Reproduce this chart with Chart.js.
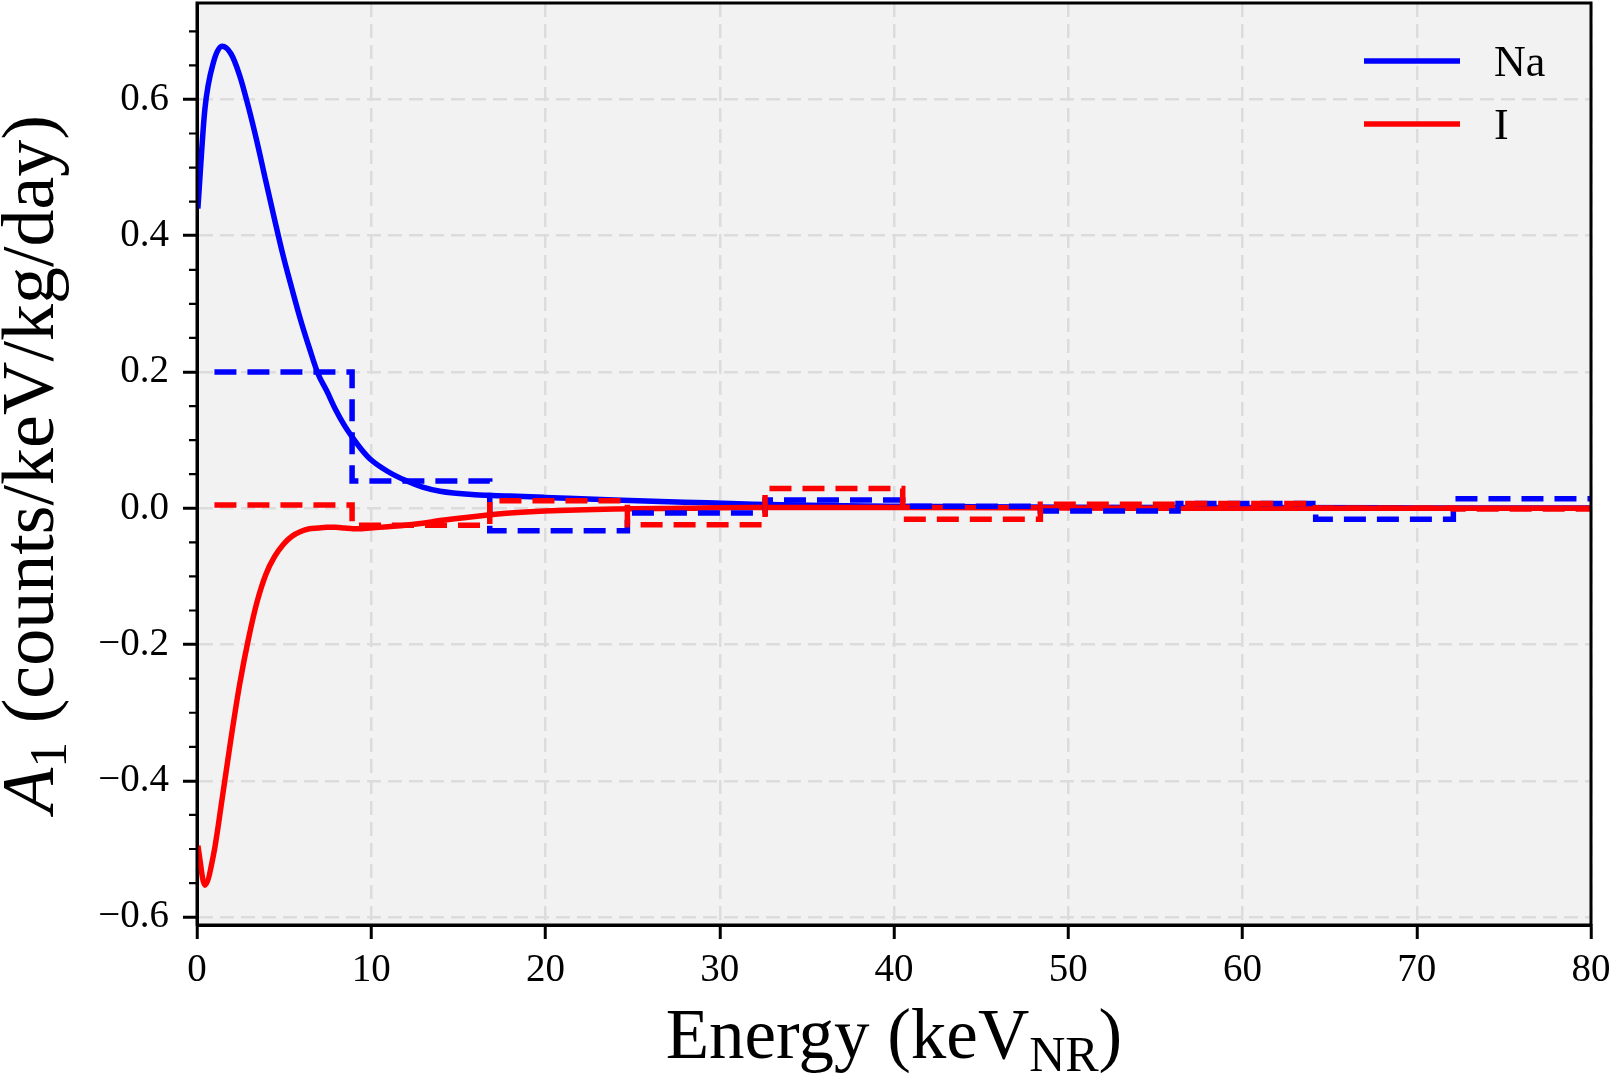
<!DOCTYPE html>
<html>
<head>
<meta charset="utf-8">
<script src="https://cdn.jsdelivr.net/npm/chart.js@4.4.1/dist/chart.umd.min.js"></script>
<style>
  body { margin: 0; background: #fff; overflow: hidden; }
  canvas { display: block; }
</style>
</head>
<body>
<canvas id="myChart" width="1612" height="1076"></canvas>
<script>
const energy = [0.05, 0.45, 0.95, 1.45, 1.95, 2.45, 2.95, 3.45, 3.95, 4.45, 4.95, 5.45, 5.95, 6.45, 6.95, 7.45, 7.95, 8.45, 8.95, 9.45, 9.95, 10.95, 11.95, 12.95, 13.95, 15.95, 17.95, 19.95, 23.95, 27.95, 31.95, 35.95, 39.95, 49.95, 59.95, 69.95, 80];

const naA1 = [0.44, 0.585, 0.655, 0.678, 0.667, 0.635, 0.589, 0.537, 0.48, 0.424, 0.37, 0.322, 0.276, 0.235, 0.197, 0.172, 0.145, 0.122, 0.103, 0.086, 0.072, 0.054, 0.041, 0.031, 0.025, 0.02, 0.018, 0.016, 0.012, 0.009, 0.006, 0.004, 0.003, 0.0015, 0.001, 0.0006, 0.0003];

const iA1 = [-0.495, -0.553, -0.508, -0.425, -0.338, -0.258, -0.192, -0.137, -0.097, -0.071, -0.053, -0.041, -0.034, -0.03, -0.029, -0.028, -0.028, -0.029, -0.03, -0.03, -0.029, -0.027, -0.025, -0.022, -0.018, -0.012, -0.007, -0.004, -0.001, 0.0, 0.001, 0.001, 0.001, 0.0005, 0.0, 0.0, 0.0];

// binned measurements (dashed steps)
const binEdges = [1.0, 8.9, 16.8, 24.7, 32.6, 40.5, 48.4, 56.3, 64.2, 72.1, 80.0];
const naBinned = [0.2, 0.04, -0.033, -0.007, 0.012, 0.003, -0.004, 0.007, -0.016, 0.014];
const iBinned = [0.005, -0.025, 0.011, -0.024, 0.029, -0.016, 0.006, 0.007, 0.0, -0.001];

const xTicks = [0, 10, 20, 30, 40, 50, 60, 70, 80];
const yTicks = [-0.6, -0.4, -0.2, 0.0, 0.2, 0.4, 0.6];
const yMin = -0.6115;
const yMax = 0.7415;
const yMinorStep = 0.05;
const legendLabels = ["Na", "I"];

Chart.defaults.font.family = "'Liberation Serif', 'Times New Roman', serif";
Chart.defaults.color = "#000";

function curve(xs, ys) {
  return xs.map((x, i) => ({ x: x, y: ys[i] }));
}
function steps(edges, vals) {
  const pts = vals.map((v, i) => ({ x: edges[i], y: v }));
  pts.push({ x: edges[edges.length - 1], y: vals[vals.length - 1] });
  return pts;
}

const BLUE = "#0000ff";
const RED = "#ff0000";

const plotBg = {
  id: "plotBg",
  beforeDraw(chart) {
    const { ctx, chartArea: a } = chart;
    ctx.save();
    ctx.fillStyle = "#f2f2f2";
    ctx.fillRect(a.left, a.top, a.width, a.height);
    ctx.restore();
  },
};

const frame = {
  id: "frame",
  afterDraw(chart) {
    const { ctx, chartArea: a, scales } = chart;
    ctx.save();
    // minor ticks on y
    ctx.strokeStyle = "#000";
    ctx.lineWidth = 2.2;
    ctx.beginPath();
    for (let k = Math.ceil(yMin / yMinorStep); k * yMinorStep <= yMax; k++) {
      const v = k * yMinorStep;
      if (Math.abs(v * 5 - Math.round(v * 5)) < 1e-6) continue;
      const py = scales.y.getPixelForValue(v);
      ctx.moveTo(a.left - 8, py);
      ctx.lineTo(a.left, py);
    }
    ctx.stroke();
    // spines
    ctx.lineWidth = 3;
    ctx.strokeRect(a.left, a.top, a.width, a.height);

    // legend (solid curves only)
    ctx.font = "44px 'Liberation Serif', serif";
    ctx.textBaseline = "alphabetic";
    ctx.textAlign = "left";
    legendLabels.forEach((lab, i) => {
      const d = chart.data.datasets.find((ds) => ds.label === lab && !ds.stepped);
      const ly = 61 + i * 63;
      ctx.strokeStyle = d.borderColor;
      ctx.lineWidth = 5.5;
      ctx.beginPath();
      ctx.moveTo(1364, ly);
      ctx.lineTo(1460, ly);
      ctx.stroke();
      ctx.fillStyle = "#000";
      ctx.fillText(lab, 1494, ly + 15);
    });

    // axis titles with subscripts
    function runs(parts) {
      let w = 0;
      parts.forEach((p) => { ctx.font = p.f; p.w = ctx.measureText(p.t).width; w += p.w; });
      return w;
    }
    function drawRuns(parts, x0, y0) {
      let x = x0;
      parts.forEach((p) => { ctx.font = p.f; ctx.fillText(p.t, x, y0 + (p.dy || 0)); x += p.w; });
    }
    ctx.fillStyle = "#000";
    const xt = [
      { t: "Energy (keV", f: "71px 'Liberation Serif', serif" },
      { t: "NR", f: "50px 'Liberation Serif', serif", dy: 13 },
      { t: ")", f: "71px 'Liberation Serif', serif" },
    ];
    const xw = runs(xt);
    drawRuns(xt, (a.left + a.right) / 2 - xw / 2, 1058);

    const yt = [
      { t: "A", f: "italic 74px 'Liberation Serif', serif" },
      { t: "1", f: "52px 'Liberation Serif', serif", dy: 13 },
      { t: " (counts/keV/kg/day)", f: "74px 'Liberation Serif', serif" },
    ];
    const yw = runs(yt);
    ctx.translate(53, (a.top + a.bottom) / 2);
    ctx.rotate(-Math.PI / 2);
    drawRuns(yt, -yw / 2, 0);
    ctx.restore();
  },
};

const ctx = document.getElementById("myChart").getContext("2d");

const myChart = new Chart(ctx, {
  type: "line",
  data: {
    datasets: [
      {
        label: "I",
        data: steps(binEdges, iBinned),
        borderColor: RED,
        borderWidth: 5.5,
        borderDash: [22, 11],
        stepped: "before",
        pointRadius: 0,
        fill: false,
        order: 0,
      },
      {
        label: "Na",
        data: steps(binEdges, naBinned),
        borderColor: BLUE,
        borderWidth: 5.5,
        borderDash: [22, 11],
        stepped: "before",
        pointRadius: 0,
        fill: false,
        order: 1,
      },
      {
        label: "I",
        data: curve(energy, iA1),
        borderColor: RED,
        borderWidth: 5.5,
        pointRadius: 0,
        cubicInterpolationMode: "monotone",
        fill: false,
        order: 2,
      },
      {
        label: "Na",
        data: curve(energy, naA1),
        borderColor: BLUE,
        borderWidth: 5.5,
        pointRadius: 0,
        cubicInterpolationMode: "monotone",
        fill: false,
        order: 3,
      },
    ],
  },
  options: {
    responsive: false,
    animation: false,
    devicePixelRatio: 1,
    layout: { padding: { top: 3, right: 21, left: 0, bottom: 0 } },
    plugins: {
      legend: { display: false },
      tooltip: { enabled: false },
    },
    scales: {
      x: {
        type: "linear",
        min: 0,
        max: 80,
        afterBuildTicks: (axis) => { axis.ticks = xTicks.map((v) => ({ value: v })); },
        afterFit: (scale) => {
          scale.height = 151;
          scale.paddingLeft = 0;
          scale.paddingRight = 0;
        },
        ticks: { font: { size: 39 }, padding: 8, autoSkip: false, maxRotation: 0 },
        grid: { color: "#dcdcdc", lineWidth: 2.5, tickColor: "#000", tickWidth: 3, tickLength: 14, tickBorderDash: [] },
        border: { display: true, color: "#000", width: 3, dash: [14, 7] },
      },
      y: {
        type: "linear",
        min: yMin,
        max: yMax,
        afterBuildTicks: (axis) => { axis.ticks = yTicks.map((v) => ({ value: v })); },
        afterFit: (scale) => {
          scale.width = 197;
          scale.paddingTop = 0;
          scale.paddingBottom = 0;
        },
        ticks: {
          font: { size: 39 },
          padding: 14,
          autoSkip: false,
          callback: (v) => (v < -1e-9 ? "\u2212" : "") + Math.abs(v).toFixed(1),
        },
        grid: { color: "#dcdcdc", lineWidth: 2.5, tickColor: "#000", tickWidth: 3, tickLength: 14, tickBorderDash: [] },
        border: { display: true, color: "#000", width: 3, dash: [14, 7] },
      },
    },
  },
  plugins: [plotBg, frame],
});
</script>
</body>
</html>
